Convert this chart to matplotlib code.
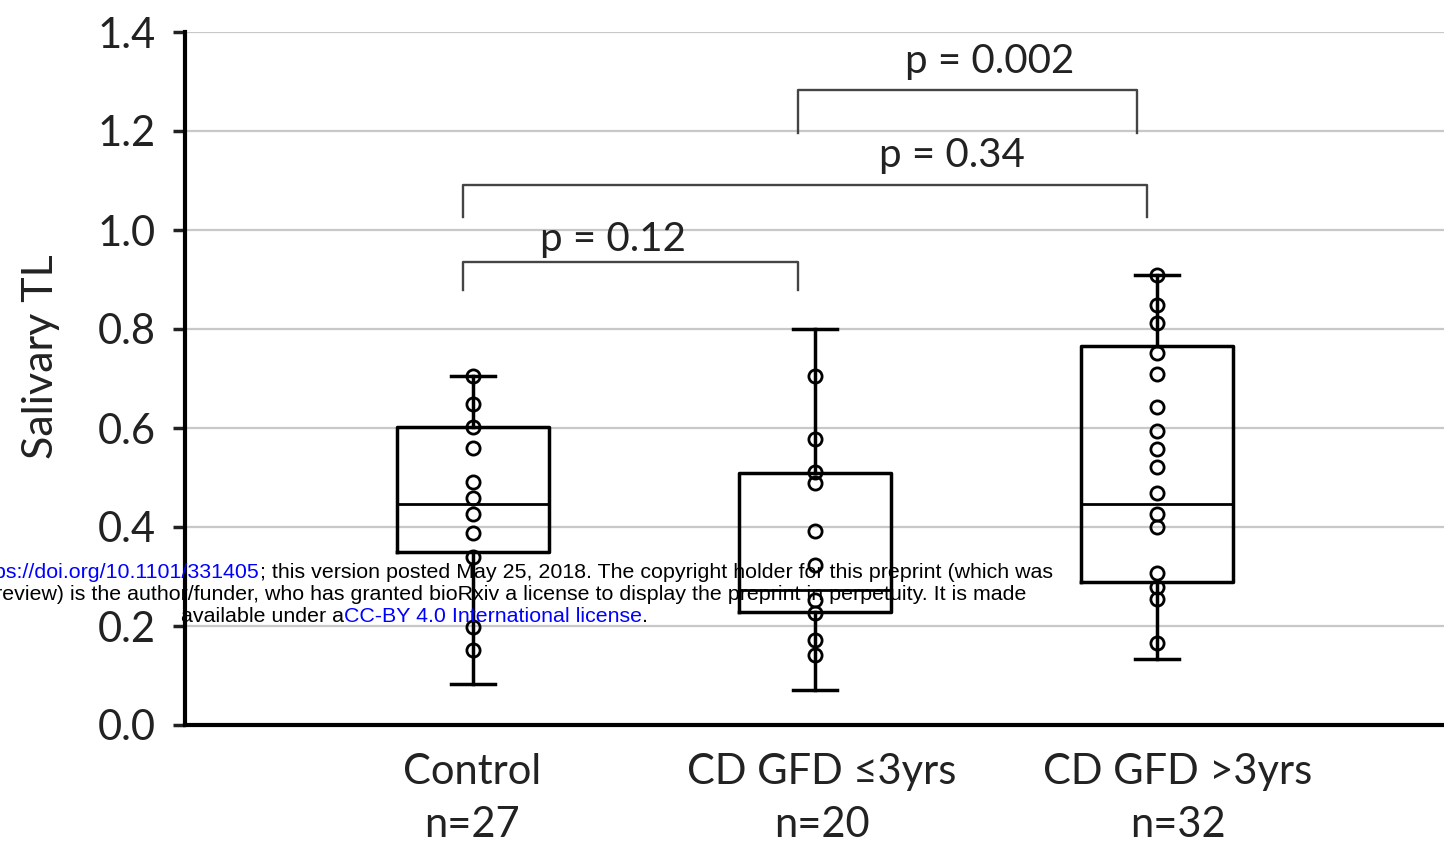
import matplotlib
matplotlib.use("Agg")
import matplotlib.pyplot as plt

plt.rcParams['font.family'] = ['Lato', 'DejaVu Sans']

# group labels and summary stats
groups = ['Control\nn=27', 'CD GFD \u22643yrs\nn=20', 'CD GFD >3yrs\nn=32']
q1 = [0.350, 0.228, 0.289]
median = [0.446, 0.273, 0.446]
q3 = [0.602, 0.509, 0.766]
whisk_lo = [0.083, 0.071, 0.133]
whisk_hi = [0.705, 0.800, 0.909]

# individual points (visible ones; duplicates overlap)
control_pts = [0.705, 0.648, 0.602, 0.560, 0.490, 0.459, 0.426, 0.388, 0.340, 0.198, 0.152]
cd_le3_pts = [0.705, 0.578, 0.511, 0.489, 0.392, 0.323, 0.253, 0.226, 0.172, 0.141]
cd_gt3_pts = [0.909, 0.848, 0.812, 0.751, 0.709, 0.642, 0.594, 0.558, 0.521, 0.469,
              0.426, 0.400, 0.307, 0.279, 0.255, 0.166]
points = [control_pts, cd_le3_pts, cd_gt3_pts]

# significance brackets: (left x, right x, bar height, leg bottom, label, label x, label y)
brackets = [
    (1.95, 2.94, 1.283, 1.196, 'p = 0.002', 2.51, 1.34),
    (0.97, 2.97, 1.091, 1.026, 'p = 0.34', 2.40, 1.15),
    (0.97, 1.95, 0.935, 0.879, 'p = 0.12', 1.41, 0.98),
]

W, H = 1444, 852
fig = plt.figure(figsize=(W / 100, H / 100), dpi=100)
ax = fig.add_axes([185 / W, 1 - 725 / H, (W - 185) / W, (725 - 32) / H])

stats = []
for i in range(3):
    stats.append(dict(med=median[i], q1=q1[i], q3=q3[i],
                      whislo=whisk_lo[i], whishi=whisk_hi[i], fliers=[]))

pos = [1, 2, 3]
ax.bxp(stats, positions=pos, widths=0.447, capwidths=0.13, showfliers=False,
       boxprops=dict(color='black', linewidth=2.5),
       whiskerprops=dict(color='black', linewidth=2.5),
       capprops=dict(color='black', linewidth=2.5),
       medianprops=dict(color='black', linewidth=2.0))

for p, pts in zip(pos, points):
    ax.plot([p] * len(pts), pts, 'o', markersize=9.5, markerfacecolor='none',
            markeredgecolor='black', markeredgewidth=2.0, zorder=4)

for x0, x1, top, bot, lab, lx, ly in brackets:
    ax.plot([x0, x0, x1, x1], [bot, top, top, bot], color='#444444', lw=1.7, zorder=5)
    ax.text(lx, ly, lab, ha='center', va='center', fontsize=29, color='#222222')

ax.set_xlim(0.158, 3.839)
ax.set_ylim(0, 1.4)
ax.set_yticks([0, 0.2, 0.4, 0.6, 0.8, 1.0, 1.2, 1.4])
ax.set_yticklabels(['0.0', '0.2', '0.4', '0.6', '0.8', '1.0', '1.2', '1.4'])
# category labels sit slightly right of the boxes in the original
ax.set_xticks([0.997, 2.02, 3.06])
ax.set_xticklabels(groups, linespacing=1.5)
ax.tick_params(axis='y', labelsize=30, length=9, width=2.5, pad=12, colors='#222222')
ax.tick_params(axis='x', labelsize=30, length=0, pad=20, colors='#222222')
ax.yaxis.grid(True, color='#c8c8c8', linewidth=1.6)
ax.set_axisbelow(True)
for s in ['top', 'right']:
    ax.spines[s].set_visible(False)
ax.spines['left'].set_linewidth(3)
ax.spines['bottom'].set_linewidth(3)
ax.set_ylabel('Salivary TL', fontsize=31, color='#222222')
ax.yaxis.set_label_coords(-0.099, 0.531)

# bioRxiv stamp across the figure
lines = [
    [("bioRxiv preprint doi: ", 'black'), ("https://doi.org/10.1101/331405", 'blue'),
     ("; this version posted May 25, 2018. The copyright holder for this preprint (which was", 'black')],
    [("not certified by peer review) is the author/funder, who has granted bioRxiv a license "
      "to display the preprint in perpetuity. It is made", 'black')],
    [("available under a", 'black'), ("CC-BY 4.0 International license", 'blue'), (".", 'black')],
]
renderer = fig.canvas.get_renderer()
cx = 414
for k, segs in enumerate(lines):
    py = 573 + k * 21.5
    texts = []
    for s, c in segs:
        t = fig.text(0, 1 - py / H, s, color=c, fontsize=15.4, family='Liberation Sans',
                     ha='left', va='center', zorder=10)
        texts.append(t)
    widths = [t.get_window_extent(renderer).width for t in texts]
    x = cx - sum(widths) / 2
    for t, w in zip(texts, widths):
        t.set_x(x / W)
        x += w

fig.savefig('out.png', dpi=100)
